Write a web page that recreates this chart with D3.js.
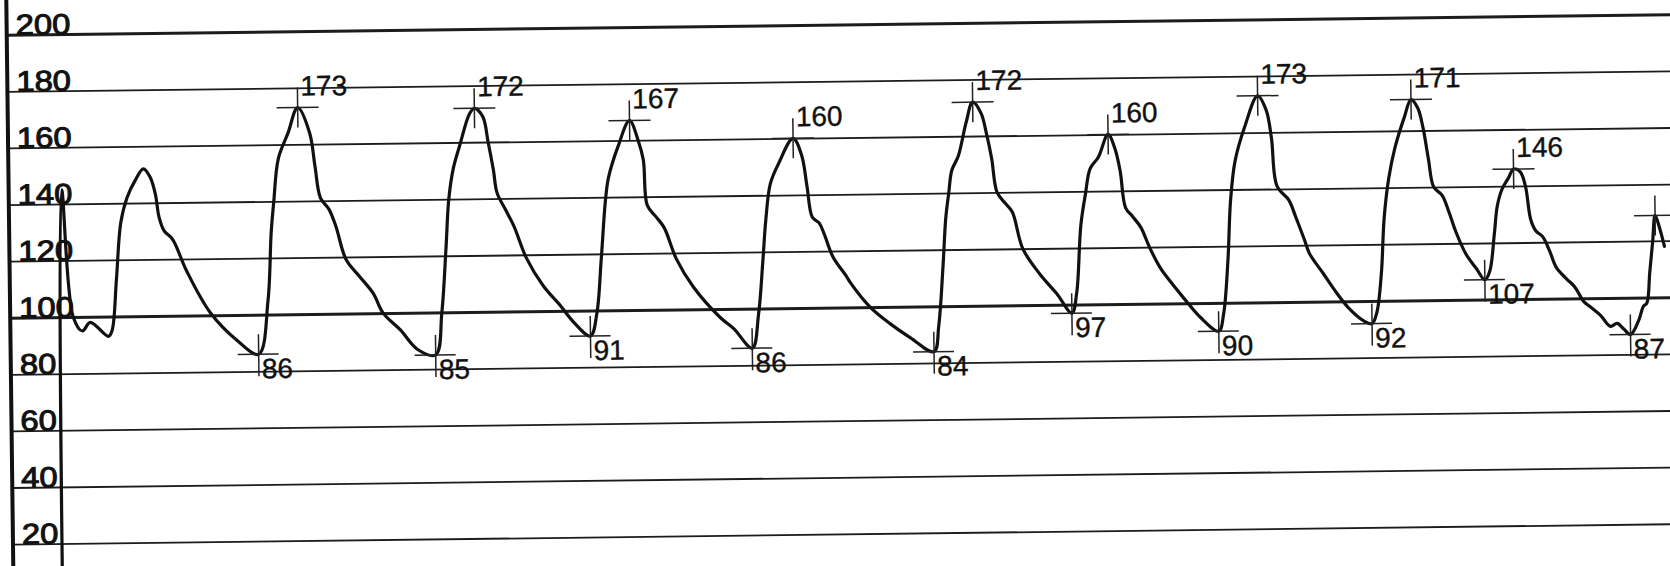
<!DOCTYPE html>
<html>
<head>
<meta charset="utf-8">
<script src="https://cdn.jsdelivr.net/npm/d3@7"></script>
<style>
  body { margin: 0; background: #fff; }
  svg { display: block; }
</style>
</head>
<body>
<script>
// pressure gridlines + labels
var yTicks = [200, 180, 160, 140, 120, 100, 80, 60, 40, 20];
var heavyTicks = [200, 100];

// arterial trace, [time ms, pressure mmHg]
var trace = [
  [354, 0], [378, 145], [438, 100], [492, 95], [540, 98], [648, 93], [670, 95], [700, 113],
  [730, 133], [770, 142], [820, 148], [870, 152], [910, 149], [940, 143], [960, 135], [990, 130],
  [1040, 127], [1120, 116], [1260, 101], [1420, 91], [1548, 86],
  // beat 1
  [1608, 105], [1632, 129], [1650, 140], [1680, 155], [1740, 164], [1800, 173], [1870, 164],
  [1900, 152], [1930, 141], [1980, 137], [2020, 131], [2080, 119], [2160, 113], [2240, 107],
  [2298, 100], [2400, 94], [2502, 87], [2610, 85],
  // beat 2
  [2650, 100], [2680, 123], [2700, 140], [2730, 151], [2770, 159], [2830, 170], [2860, 172],
  [2910, 169], [2940, 160], [2970, 150], [2990, 142], [3040, 136], [3090, 130], [3160, 119],
  [3260, 109], [3360, 102], [3440, 96], [3540, 91],
  // beat 3
  [3580, 99], [3610, 118], [3640, 139], [3660, 147], [3720, 158], [3790, 167], [3840, 160],
  [3870, 153], [3890, 137], [3940, 133], [3990, 129], [4060, 118], [4160, 108], [4320, 97],
  [4400, 93], [4510, 86],
  // beat 4
  [4550, 98], [4580, 117], [4600, 131], [4630, 144], [4680, 151], [4770, 160], [4820, 154],
  [4850, 143], [4880, 132], [4920, 130], [4950, 126], [5000, 118], [5080, 111], [5100, 109],
  [5220, 100], [5340, 94], [5460, 89], [5600, 84],
  // beat 5
  [5630, 93], [5660, 114], [5680, 131], [5700, 140], [5720, 148], [5760, 153], [5810, 165],
  [5850, 172], [5900, 168], [5930, 161], [5960, 152], [5990, 140], [6040, 136], [6080, 133],
  [6140, 120], [6240, 111], [6340, 104], [6430, 97],
  // beat 6
  [6460, 104], [6490, 128], [6520, 139], [6550, 148], [6600, 152], [6660, 160], [6700, 155],
  [6730, 147], [6760, 134], [6800, 131], [6850, 127], [6900, 120], [6960, 113], [7020, 108],
  [7100, 102], [7200, 95], [7310, 90],
  // beat 7
  [7340, 96], [7370, 115], [7390, 136], [7420, 150], [7480, 162], [7560, 173], [7610, 168],
  [7640, 158], [7670, 141], [7740, 136], [7780, 130], [7830, 122], [7860, 117], [7940, 110],
  [8020, 103], [8100, 97], [8180, 93], [8230, 92],
  // beat 8
  [8260, 96], [8290, 110], [8310, 129], [8340, 143], [8380, 154], [8440, 165], [8480, 171],
  [8520, 168], [8550, 161], [8580, 150], [8610, 140], [8660, 137], [8700, 131], [8740, 124],
  [8800, 116], [8860, 111], [8910, 107],
  // beat 9
  [8940, 110], [8970, 123], [8990, 133], [9020, 139], [9060, 143], [9090, 146], [9130, 145],
  [9160, 140], [9190, 128], [9220, 124], [9260, 122], [9300, 117], [9340, 111], [9400, 107],
  [9450, 104], [9500, 99], [9540, 97], [9600, 94], [9660, 90], [9700, 91], [9740, 89], [9780, 87],
  // cut off at the right edge
  [9830, 92], [9860, 97], [9880, 98], [9900, 109], [9920, 120], [9936, 129], [9960, 125], [9990, 118]
];

// systolic / diastolic markers
var peakMs = [1800, 2860, 3790, 4770, 5850, 6660, 7560, 8480, 9090, 9936];
var peakMmHg = [173, 172, 167, 160, 172, 160, 173, 171, 146, 129];
var peakLabels = ["173", "172", "167", "160", "172", "160", "173", "171", "146", ""];
var troughMs = [1548, 2610, 3540, 4510, 5600, 6430, 7310, 8230, 8910, 9780];
var troughMmHg = [86, 85, 91, 86, 84, 97, 90, 92, 107, 87];

var svgWidth = 1670;
var svgHeight = 566;

var svg = d3.select("body")
  .append("svg")
  .attr("width", svgWidth)
  .attr("height", svgHeight);

svg.append("rect")
  .attr("width", svgWidth)
  .attr("height", svgHeight)
  .attr("fill", "#fff");

// the scanned strip is a little tilted
var chartGroup = svg.append("g")
  .attr("transform", "rotate(-0.705, 70, 300)");

var xScale = d3.scaleLinear()
  .domain([0, 10020])
  .range([0, 1670]);

var yScale = d3.scaleLinear()
  .domain([0, 200])
  .range([600, 34]);

// gridlines
var grid = chartGroup.append("g")
  .attr("transform", "translate(10,0)")
  .call(d3.axisLeft(yScale).tickValues(yTicks).tickSize(-1700).tickFormat(""));
grid.select(".domain").remove();
grid.selectAll(".tick line")
  .attr("stroke", "#1c1c1c")
  .attr("stroke-width", d => heavyTicks.includes(d) ? 3 : 1.8);

// left border
chartGroup.append("line")
  .attr("x1", 10).attr("x2", 10)
  .attr("y1", -30).attr("y2", 620)
  .attr("stroke", "#111")
  .attr("stroke-width", 4);

// tick labels, sitting on their lines
chartGroup.append("g").selectAll("text")
  .data(yTicks)
  .enter()
  .append("text")
  .attr("transform", d => `translate(19, ${yScale(d)}) scale(1.13, 1)`)
  .attr("font-family", "Liberation Sans, Arial, sans-serif")
  .attr("font-size", "29px")
  .attr("fill", "#111")
  .attr("stroke", "#111")
  .attr("stroke-width", 1)
  .text(d => d);

// trace
var line = d3.line()
  .x(d => xScale(d[0]))
  .y(d => yScale(d[1]))
  .curve(d3.curveCatmullRom.alpha(0.5));

chartGroup.append("path")
  .datum(trace)
  .attr("d", line)
  .attr("fill", "none")
  .attr("stroke", "#111")
  .attr("stroke-width", 3.2)
  .attr("stroke-linejoin", "round")
  .attr("stroke-linecap", "round");

// peak markers
var peaks = chartGroup.append("g").selectAll("g")
  .data(peakMs.map((t, i) => ({ t: t, v: peakMmHg[i], label: peakLabels[i] })))
  .enter()
  .append("g")
  .attr("transform", d => `translate(${xScale(d.t)}, ${yScale(d.v)})`);

peaks.append("line")
  .attr("x1", -21).attr("x2", 21)
  .attr("stroke", "#222").attr("stroke-width", 1.5);
peaks.append("line")
  .attr("y1", -20).attr("y2", 20)
  .attr("stroke", "#222").attr("stroke-width", 1.5);
peaks.append("text")
  .attr("x", 3).attr("y", -12)
  .attr("font-family", "Liberation Sans, Arial, sans-serif")
  .attr("font-size", "28px")
  .attr("fill", "#111")
  .attr("stroke", "#111")
  .attr("stroke-width", 0.4)
  .text(d => d.label);

// trough markers
var troughs = chartGroup.append("g").selectAll("g")
  .data(troughMs.map((t, i) => ({ t: t, v: troughMmHg[i] })))
  .enter()
  .append("g")
  .attr("transform", d => `translate(${xScale(d.t)}, ${yScale(d.v)})`);

troughs.append("line")
  .attr("x1", -21).attr("x2", 20)
  .attr("stroke", "#222").attr("stroke-width", 1.5);
troughs.append("line")
  .attr("y1", -20).attr("y2", 22)
  .attr("stroke", "#222").attr("stroke-width", 1.5);
troughs.append("text")
  .attr("x", 3).attr("y", 24)
  .attr("font-family", "Liberation Sans, Arial, sans-serif")
  .attr("font-size", "28px")
  .attr("fill", "#111")
  .attr("stroke", "#111")
  .attr("stroke-width", 0.4)
  .text(d => d.v);
</script>
</body>
</html>
